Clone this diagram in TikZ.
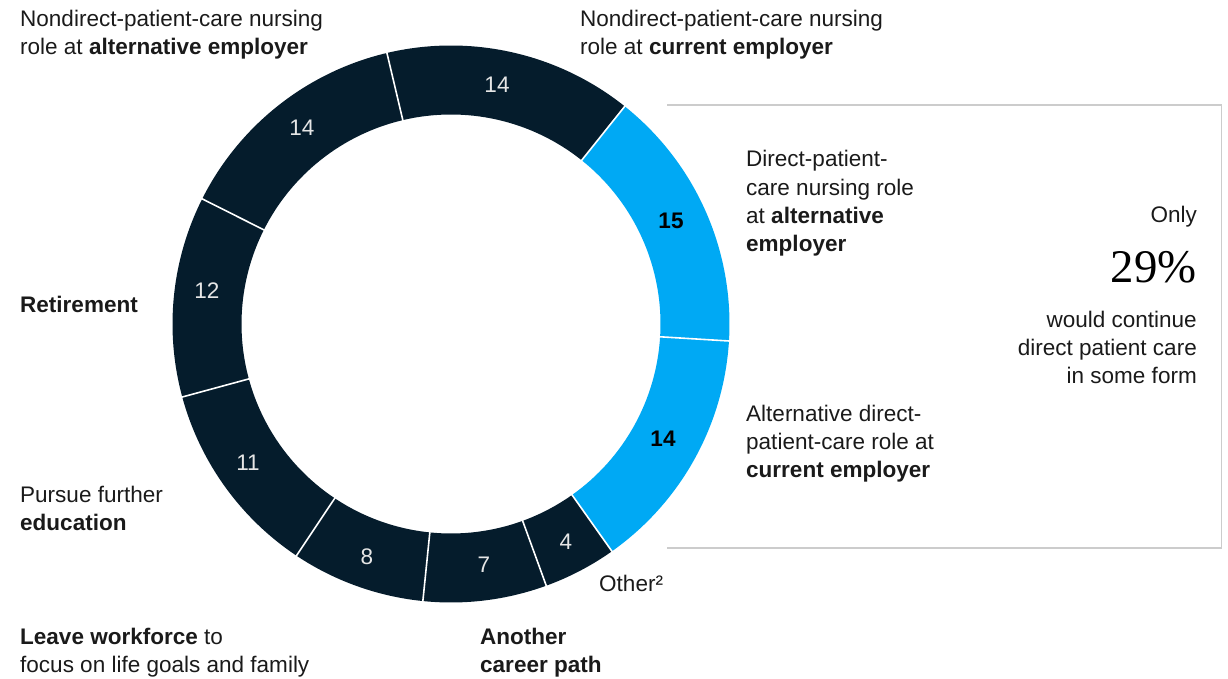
\documentclass[tikz,border=0pt]{standalone}
\usepackage{fontspec}
\setmainfont{Liberation Sans}
\newfontfamily\bigserif{Liberation Serif}
\definecolor{navy}{HTML}{051C2C}
\definecolor{cyanb}{HTML}{00A9F4}
\definecolor{textc}{HTML}{1A1A1A}
\definecolor{boxc}{HTML}{CCCCCC}
\definecolor{numc}{HTML}{E6E6E6}
\newcommand{\lblfont}{\fontsize{22.6}{28.6}\selectfont}
\tikzset{
  lbl/.style={anchor=base west, align=left, inner sep=0pt, font=\lblfont, text=textc},
  lblr/.style={anchor=base east, align=right, inner sep=0pt, font=\lblfont, text=textc},
  numd/.style={inner sep=0pt, font=\lblfont, text=numc},
  numb/.style={inner sep=0pt, font=\lblfont\bfseries, text=black},
  sep/.style={draw=white, line width=1.6pt},
}
\newcommand{\seg}[3]{%
  \fill[#3] (#1:278.5) arc[start angle=#1, end angle=#2, radius=278.5]
     -- (#2:209.5) arc[start angle=#2, end angle=#1, radius=209.5] -- cycle;}
\begin{document}
\begin{tikzpicture}[x=1bp,y=1bp]
\useasboundingbox (0,0) rectangle (1228,679);
% bracket box
\draw[boxc, line width=1.2pt] (667,574) -- (1221.5,574) -- (1221.5,131) -- (667,131);
% ring
\begin{scope}[shift={(451,355)}]
  \seg{51.4}{-3.5}{cyanb}
  \seg{-3.5}{-54.7}{cyanb}
  \seg{-54.7}{-70}{navy}
  \seg{-70}{-95.8}{navy}
  \seg{-95.8}{-123.7}{navy}
  \seg{-123.7}{-164.8}{navy}
  \seg{-164.8}{-206.7}{navy}
  \seg{-206.7}{-256.7}{navy}
  \seg{-256.7}{-308.6}{navy}
  \foreach \a in {51.4,-3.5,-54.7,-70,-95.8,-123.7,-164.8,-206.7,-256.7}
    \draw[sep] (\a:207) -- (\a:281);
\end{scope}
% ring numbers
\node[numd] (n1) at (497,594) {14};
\node[numd] (n2) at (302,551) {14};
\node[numd] (n3) at (207,388) {12};
\node[numd] (n4) at (248,216) {11};
\node[numd] (n5) at (367,122) {8};
\node[numd] (n6) at (484,114) {7};
\node[numd] (n7) at (566,137) {4};
\node[numb] (n8) at (663,240) {14};
\node[numb] (n9) at (671,458) {15};
% labels (anchor = baseline of last line)
\node[lbl] (l1) at (20,624) {Nondirect-patient-care nursing\\role at \textbf{alternative employer}};
\node[lbl] (l2) at (580,624) {Nondirect-patient-care nursing\\role at \textbf{current employer}};
\node[lbl] (l3) at (746,427) {Direct-patient-\\care nursing role\\at \textbf{alternative}\\\textbf{employer}};
\node[lbl] (l4) at (746,201) {Alternative direct-\\patient-care role at\\\textbf{current employer}};
\node[lbl] (l5) at (599,87) {Other²};
\node[lbl] (l6) at (480,6) {\textbf{Another}\\\textbf{career path}};
\node[lbl] (l7) at (20,6) {\textbf{Leave workforce} to\\focus on life goals and family};
\node[lbl] (l8) at (20,148) {Pursue further\\\textbf{education}};
\node[lbl] (l9) at (20,366) {\textbf{Retirement}};
\node[lblr] (r1) at (1197,456) {Only};
\node[anchor=base east, inner sep=0pt, font=\bigserif\fontsize{47}{50}\selectfont, text=black] (r2) at (1197,396) {29\%};
\node[lblr] (r3) at (1197,295) {would continue\\direct patient care\\in some form};
\end{tikzpicture}
\end{document}
